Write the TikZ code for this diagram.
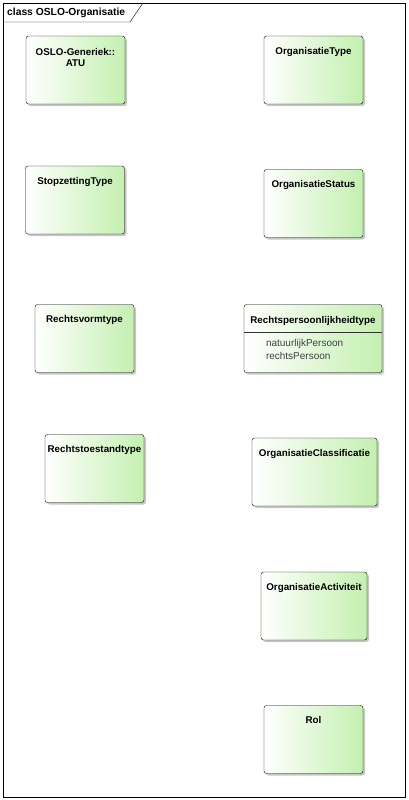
\documentclass[tikz,border=0pt]{standalone}
\usepackage{fontspec}
\setmainfont{Liberation Sans}
\usetikzlibrary{shadows}

\definecolor{clsgreen}{RGB}{196,240,176}

\begin{document}
\begin{tikzpicture}[
    x=1pt, y=-1pt,
    % Class box: rounded, shaded white to green, with shadow
    cls/.style={
        rectangle, rounded corners=2.5pt, draw=black, thin,
        left color=white, right color=clsgreen,
        minimum width=99pt, minimum height=68pt, inner sep=0pt,
        drop shadow={shadow xshift=2pt, shadow yshift=-2pt,
                     fill=black!22, opacity=1}
    },
    % Class name: bold, near the top of the box
    cname/.style={
        font=\fontsize{9.8}{11.5}\selectfont\bfseries,
        anchor=north, inner sep=0pt, align=center
    },
    % Attribute lines
    attr/.style={
        font=\fontsize{10}{13}\selectfont, color=black!75,
        anchor=north west, inner sep=0pt, align=left
    },
]

\useasboundingbox (0,0) rectangle (408,800);

% ============================================================
% FRAME
% ============================================================
\draw[thin] (3,3) rectangle (405,797);
\draw[thin] (3,22) -- (130,22) -- (143,3);
\node[anchor=west, inner sep=0pt, font=\fontsize{10.3}{12}\selectfont\bfseries] (title) at (7,12.5)
    {class OSLO-Organisatie};

% ============================================================
% LEFT COLUMN
% ============================================================
\node[cls] (atu)    at (75.5, 70) {};
\node[cname] (atu-n) at ([yshift=-12pt]atu.north) {OSLO-Generiek::\\ATU};

\node[cls] (stop)   at (75, 200) {};
\node[cname] (stop-n) at ([yshift=-11pt]stop.north) {StopzettingType};

\node[cls] (rvorm)  at (84.5, 338.5) {};
\node[cname] (rvorm-n) at ([yshift=-11pt]rvorm.north) {Rechtsvormtype};

\node[cls] (rtoe)   at (94.5, 468.5) {};
\node[cname] (rtoe-n) at ([yshift=-11pt]rtoe.north) {Rechtstoestandtype};

% ============================================================
% RIGHT COLUMN
% ============================================================
\node[cls] (otype)  at (313.5, 70) {};
\node[cname] (otype-n) at ([yshift=-11pt]otype.north) {OrganisatieType};

\node[cls] (ostat)  at (313.5, 203.5) {};
\node[cname] (ostat-n) at ([yshift=-11pt]ostat.north) {OrganisatieStatus};

% Enumeration with two literals
\node[cls, minimum width=138pt] (rpers) at (313, 338.5) {};
\node[cname] (rpers-n) at ([yshift=-12pt]rpers.north) {Rechtspersoonlijkheidtype};
\draw[black!80, line width=0.35pt] ([yshift=-28pt]rpers.north west) -- ([yshift=-28pt]rpers.north east);
\node[attr] (rpers-a) at ([xshift=22pt, yshift=-35pt]rpers.north west)
    {natuurlijkPersoon\\rechtsPersoon};

\node[cls, minimum width=125pt] (oclass) at (314.5, 472) {};
\node[cname] (oclass-n) at ([yshift=-11pt]oclass.north) {OrganisatieClassificatie};

\node[cls, minimum width=106pt] (oact) at (314, 606) {};
\node[cname] (oact-n) at ([yshift=-11pt]oact.north) {OrganisatieActiviteit};

\node[cls] (rol)    at (313.5, 739.5) {};
\node[cname] (rol-n) at ([yshift=-11pt]rol.north) {Rol};

\end{tikzpicture}
\end{document}
